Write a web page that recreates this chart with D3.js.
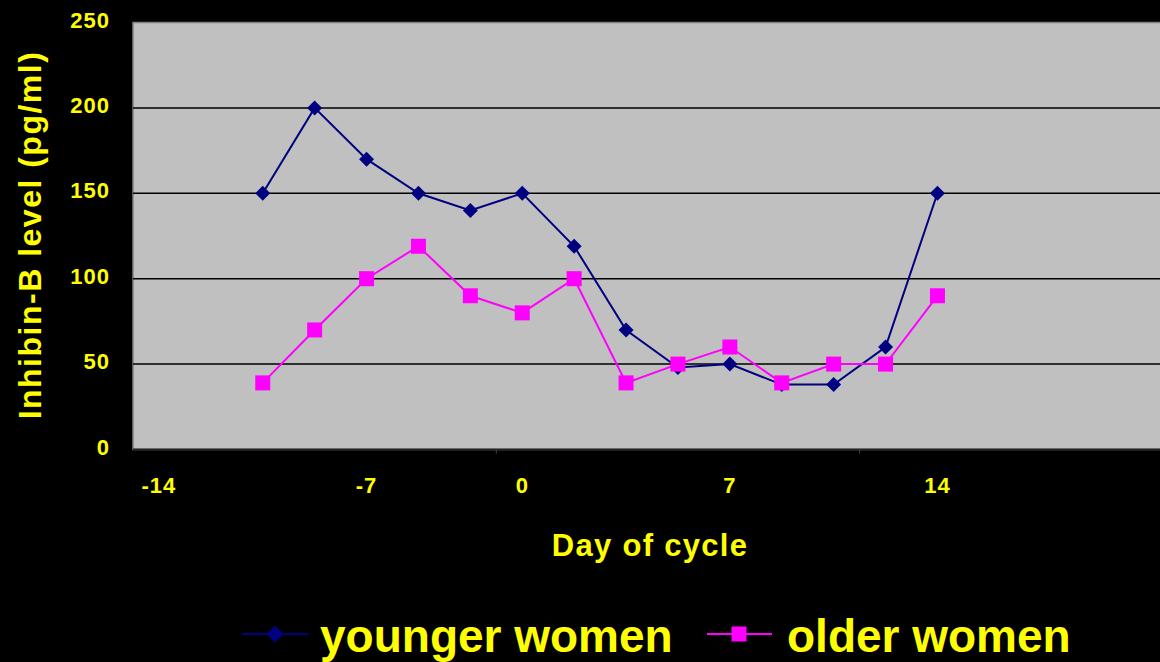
<!DOCTYPE html>
<html>
<head>
<meta charset="utf-8">
<script src="https://cdn.jsdelivr.net/npm/d3@7"></script>
<style>
  html, body { margin: 0; padding: 0; background: #000; }
  svg { display: block; }
  text { font-family: "Liberation Sans", Arial, sans-serif; font-weight: bold; fill: #FFFF00; }
</style>
</head>
<body>
<svg id="chart" width="1160" height="662"></svg>
<script>
// ---- data ----
const slots = ["s0","s1","s2","s3","s4","s5","s6","s7","s8","s9","s10","s11","s12","s13","s14","s15","s16","s17","s18","s19"];
const slotLabels = ["-14","","","","-7","","","0","","","","7","","","","14","","","",""];
const dataSlots = ["s2","s3","s4","s5","s6","s7","s8","s9","s10","s11","s12","s13","s14","s15"];
const youngerWomen = [150, 200, 170, 150, 140, 150, 119, 70, 48, 50, 38, 38, 60, 150];
const olderWomen   = [39, 70, 100, 119, 90, 80, 100, 39, 50, 60, 39, 50, 50, 90];
const yTicks = [0, 50, 100, 150, 200, 250];
const seriesNames = ["younger women", "older women"];

(function () {
// ---- layout ----
const svg = d3.select("#chart");
const pLeft = 133, pTop = 22.5, pBottom = 449.5, pRight = 1171;
const x = d3.scaleBand().domain(slots).range([pLeft, pRight]);
const y = d3.scaleLinear().domain([0, 250]).range([pBottom, pTop]);
const cx = s => x(s) + x.bandwidth() / 2;

// plot area
svg.append("rect").attr("x", pLeft).attr("y", pTop)
  .attr("width", pRight - pLeft).attr("height", pBottom - pTop)
  .attr("fill", "#C0C0C0").attr("stroke", "#808080").attr("stroke-width", 1.5);

// gridlines
svg.append("g").selectAll("line").data(yTicks.filter(v => v > 0 && v < 250)).join("line")
  .attr("x1", pLeft).attr("x2", pRight)
  .attr("y1", d => y(d)).attr("y2", d => y(d))
  .attr("stroke", "#000").attr("stroke-width", 1.5);

// x axis line
svg.append("line").attr("x1", pLeft).attr("x2", pRight).attr("y1", pBottom).attr("y2", pBottom)
  .attr("stroke", "#222").attr("stroke-width", 2);

// x tick marks every 7 slots at boundaries
svg.append("g").selectAll("line").data(["s7","s14"]).join("line")
  .attr("x1", d => x(d)).attr("x2", d => x(d))
  .attr("y1", pBottom).attr("y2", pBottom + 4)
  .attr("stroke", "#444").attr("stroke-width", 1);

// y tick labels
svg.append("g").selectAll("text").data(yTicks).join("text")
  .attr("x", 110).attr("y", d => y(d) + 5)
  .attr("text-anchor", "end").attr("font-size", 22).attr("letter-spacing", 1)
  .text(d => d);

// x tick labels
svg.append("g").selectAll("text").data(slots.filter((s, i) => slotLabels[i] !== "")).join("text")
  .attr("x", d => cx(d)).attr("y", 493)
  .attr("text-anchor", "middle").attr("font-size", 22).attr("letter-spacing", 1)
  .text(d => slotLabels[slots.indexOf(d)]);

// axis titles
svg.append("text").attr("transform", "translate(41,235) rotate(-90)")
  .attr("text-anchor", "middle").attr("font-size", 32).attr("letter-spacing", 1.5)
  .text("Inhibin-B level (pg/ml)");
svg.append("text").attr("x", 650).attr("y", 556)
  .attr("text-anchor", "middle").attr("font-size", 31).attr("letter-spacing", 1.3)
  .text("Day of cycle");

// series
const navy = "#000080", magenta = "#FF00FF";
const line = d3.line().x(d => cx(d.s)).y(d => y(d.v));
const yData = dataSlots.map((s, i) => ({ s, v: youngerWomen[i] }));
const oData = dataSlots.map((s, i) => ({ s, v: olderWomen[i] }));

function diamond(sel, px, py, r) {
  sel.append("path").attr("d", `M${px},${py - r}L${px + r},${py}L${px},${py + r}L${px - r},${py}Z`)
    .attr("fill", navy);
}
function square(sel, px, py, h) {
  sel.append("rect").attr("x", px - h).attr("y", py - h).attr("width", 2 * h).attr("height", 2 * h)
    .attr("fill", magenta);
}

svg.append("path").datum(yData).attr("d", line).attr("fill", "none").attr("stroke", navy).attr("stroke-width", 2);
const gy = svg.append("g");
yData.forEach(d => diamond(gy, cx(d.s), y(d.v), 7.5));

svg.append("path").datum(oData).attr("d", line).attr("fill", "none").attr("stroke", magenta).attr("stroke-width", 2);
const go = svg.append("g");
oData.forEach(d => square(go, cx(d.s), y(d.v), 7.5));

// legend
const lg = svg.append("g");
const ly = 634;
lg.append("line").attr("x1", 242).attr("x2", 308).attr("y1", ly).attr("y2", ly).attr("stroke", navy).attr("stroke-width", 2);
diamond(lg, 275, ly, 8.5);
lg.append("text").attr("x", 320).attr("y", 652).attr("font-size", 46).text(seriesNames[0]);
lg.append("line").attr("x1", 707).attr("x2", 772).attr("y1", ly).attr("y2", ly).attr("stroke", magenta).attr("stroke-width", 2);
square(lg, 739, ly, 7.5);
lg.append("text").attr("x", 787).attr("y", 652).attr("font-size", 46).text(seriesNames[1]);
})();
</script>
</body>
</html>
